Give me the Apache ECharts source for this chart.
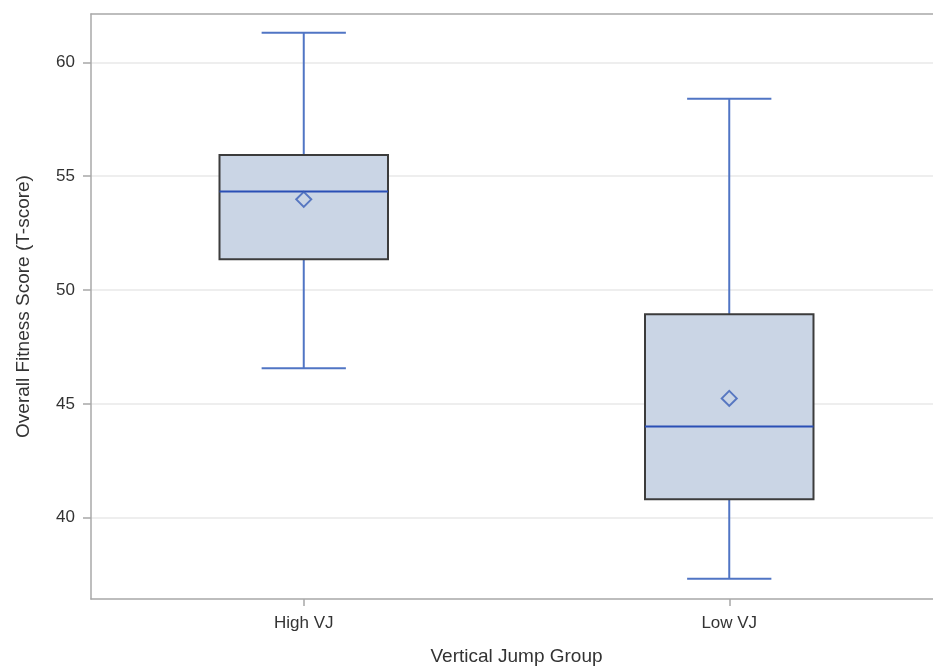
<!DOCTYPE html>
<html>
<head>
<meta charset="utf-8">
<script src="https://cdn.jsdelivr.net/npm/echarts@6/dist/echarts.min.js"></script>
<style>
html,body{margin:0;padding:0;background:#fff;}
#chart{width:933px;height:669px;}
</style>
</head>
<body>
<div id="chart"></div>
<script>
var categories = ['High VJ', 'Low VJ'];
var minVals    = [46.56, 37.32];
var q1Vals     = [51.35, 40.81];
var medianVals = [54.32, 44.01];
var q3Vals     = [55.93, 48.93];
var maxVals    = [61.30, 58.40];
var meanVals   = [53.98, 45.24];
var yTicks     = [40, 45, 50, 55, 60];

var boxData = categories.map(function (c, i) {
  return [i, minVals[i], q1Vals[i], medianVals[i], q3Vals[i], maxVals[i]];
});

var chart = echarts.init(document.getElementById('chart'), null, {renderer: 'canvas'});
var whiskerColor = '#5075c4';
var medianColor = '#2a4fb5';
var frameColor = '#a8a8a8';

chart.setOption({
  animation: false,
  backgroundColor: '#ffffff',
  grid: {
    left: 91, top: 14, bottom: 70, right: -9,
    containLabel: false,
    outerBoundsMode: 'none',
    show: false
  },
  xAxis: [
    {
      type: 'category',
      data: categories,
      boundaryGap: true,
      position: 'bottom',
      name: 'Vertical Jump Group',
      nameLocation: 'middle',
      nameGap: 48,
      nameTextStyle: {fontFamily: 'Liberation Sans', fontSize: 19, color: '#333333'},
      axisLine: {show: true, lineStyle: {color: frameColor, width: 1.5}},
      axisTick: {show: true, alignWithLabel: true, length: 7, lineStyle: {color: frameColor, width: 1.5}},
      axisLabel: {fontFamily: 'Liberation Sans', fontSize: 17, color: '#333333', margin: 16},
      splitLine: {show: false}
    },
    {
      type: 'category',
      data: categories,
      boundaryGap: true,
      position: 'top',
      axisLine: {show: true, onZero: false, lineStyle: {color: frameColor, width: 1.5}},
      axisTick: {show: false},
      axisLabel: {show: false},
      splitLine: {show: false}
    }
  ],
  yAxis: {
    type: 'value',
    min: 36.43,
    max: 62.12,
    splitNumber: 5,
    name: 'Overall Fitness Score (T-score)',
    nameLocation: 'middle',
    nameGap: 58,
    nameTextStyle: {fontFamily: 'Liberation Sans', fontSize: 19, color: '#333333'},
    axisLine: {show: true, lineStyle: {color: frameColor, width: 1.5}},
    axisTick: {show: true, length: 8, customValues: yTicks, lineStyle: {color: frameColor, width: 1.5}},
    axisLabel: {fontFamily: 'Liberation Sans', fontSize: 17, color: '#333333', margin: 16,
                customValues: yTicks},
    splitLine: {show: true, lineStyle: {color: '#e8e8e8', width: 1.5}}
  },
  series: [
    {
      type: 'custom',
      data: boxData,
      encode: {x: 0, y: [1, 2, 3, 4, 5]},
      z: 2,
      renderItem: function (params, api) {
        var idx = api.value(0);
        var band = api.size([1, 0])[0];
        var boxHalf = band * 0.198;
        var capHalf = band * 0.099;
        var pMin = api.coord([idx, api.value(1)]);
        var pQ1 = api.coord([idx, api.value(2)]);
        var pMed = api.coord([idx, api.value(3)]);
        var pQ3 = api.coord([idx, api.value(4)]);
        var pMax = api.coord([idx, api.value(5)]);
        var cx = pMed[0];
        var wStyle = {stroke: whiskerColor, lineWidth: 2, fill: null};
        return {
          type: 'group',
          children: [
            {type: 'line', shape: {x1: cx, y1: pQ3[1], x2: cx, y2: pMax[1]}, style: wStyle},
            {type: 'line', shape: {x1: cx, y1: pQ1[1], x2: cx, y2: pMin[1]}, style: wStyle},
            {type: 'line', shape: {x1: cx - capHalf, y1: pMax[1], x2: cx + capHalf, y2: pMax[1]}, style: wStyle},
            {type: 'line', shape: {x1: cx - capHalf, y1: pMin[1], x2: cx + capHalf, y2: pMin[1]}, style: wStyle},
            {type: 'rect', shape: {x: cx - boxHalf, y: pQ3[1], width: boxHalf * 2, height: pQ1[1] - pQ3[1]},
             style: {fill: '#cad5e5', stroke: '#3c3c3c', lineWidth: 2}},
            {type: 'line', shape: {x1: cx - boxHalf, y1: pMed[1], x2: cx + boxHalf, y2: pMed[1]},
             style: {stroke: medianColor, lineWidth: 2}}
          ]
        };
      }
    },
    {
      type: 'scatter',
      data: meanVals,
      z: 3,
      symbol: 'diamond',
      symbolSize: [15, 15],
      itemStyle: {color: 'rgba(0,0,0,0)', borderColor: '#3a5fb8', borderWidth: 2}
    }
  ]
});
</script>
</body>
</html>
